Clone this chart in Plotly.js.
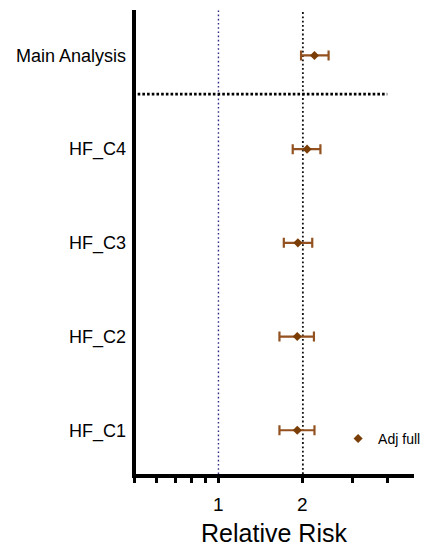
<!DOCTYPE html>
<html>
<head>
<meta charset="utf-8">
<script src="https://cdn.plot.ly/plotly-3.0.1.min.js"></script>
<style>html,body{margin:0;padding:0;background:#fff;}#chart{width:425px;height:547px;}</style>
</head>
<body>
<div id="chart"></div>
<script>
// Data (rows from bottom to top)
var categories = ['HF_C1', 'HF_C2', 'HF_C3', 'HF_C4', 'Main Analysis'];
var rrEstimate = [1.91, 1.91, 1.92, 2.07, 2.20];
var rrLower    = [1.65, 1.65, 1.71, 1.84, 1.97];
var rrUpper    = [2.20, 2.19, 2.16, 2.31, 2.47];
var seriesName = 'Adj full';
var xTickVals = [0.5, 0.6, 0.7, 0.8, 0.9, 1, 2, 3, 4];
var xLabelVals = [1, 2];
var xLabelText = ['1', '2'];
var refLineNull = [1];
var refLineMain = [2];
var separatorRow = 3.587;          // dotted separator between groups
var separatorSpan = [0.515, 4];

var rowIdx = categories.map(function (c, i) { return i; });
var yRange = [-0.467, 4.485];
var xRange = [Math.log10(0.5) - 0.0002, Math.log10(0.5) - 0.0002 + 280 / 280.4];

var traces = [];
// reference vertical lines
traces.push({x: [refLineNull[0], refLineNull[0]], y: yRange, mode: 'lines', showlegend: false, hoverinfo: 'skip',
  line: {color: '#2f2a86', width: 1.4, dash: '1.6px,2.6px'}});
traces.push({x: [refLineMain[0], refLineMain[0]], y: yRange, mode: 'lines', showlegend: false, hoverinfo: 'skip',
  line: {color: '#111111', width: 1.8, dash: '1.8px,2.5px'}});
// horizontal separator
traces.push({x: separatorSpan, y: [separatorRow, separatorRow], mode: 'lines', showlegend: false, hoverinfo: 'skip',
  line: {color: '#000000', width: 2.6, dash: '2.6px,2.1px'}});
// estimates with CIs
traces.push({
  x: rrEstimate, y: rowIdx, mode: 'markers', name: seriesName, type: 'scatter',
  marker: {symbol: 'diamond', size: 7, color: '#7a3d05'},
  error_x: {type: 'data', symmetric: false,
    array: rrEstimate.map(function (v, i) { return rrUpper[i] - v; }),
    arrayminus: rrEstimate.map(function (v, i) { return v - rrLower[i]; }),
    color: '#93511f', thickness: 2.2, width: 5}
});

// x tick labels (log axis annotations take log10 positions)
var tickLabelAnns = xLabelVals.map(function (v, i) {
  return {x: Math.log10(v), xref: 'x', y: -0.0657, yref: 'paper', text: xLabelText[i],
    showarrow: false, xanchor: 'center', yanchor: 'middle', font: {size: 19, color: '#000'}};
});

var layout = {
  width: 425, height: 547,
  margin: {l: 134, r: 11, t: 10, b: 72.5, autoexpand: false},
  paper_bgcolor: '#ffffff', plot_bgcolor: '#ffffff',
  font: {family: 'Liberation Sans, Arial, sans-serif', color: '#000'},
  xaxis: {
    type: 'log', range: xRange, automargin: false,
    tickmode: 'array', tickvals: xTickVals, showticklabels: false,
    ticks: 'outside', ticklen: 5, tickwidth: 3, tickcolor: '#000',
    showline: true, linewidth: 4, linecolor: '#000',
    showgrid: false, zeroline: false,
    title: {text: 'Relative Risk', font: {size: 25, color: '#000'}, standoff: 44}
  },
  yaxis: {
    range: yRange, automargin: false, tickmode: 'array', tickvals: rowIdx, ticktext: categories,
    ticks: '', showline: false, showgrid: false, zeroline: false,
    tickfont: {size: 18, color: '#000'}, ticklabelstandoff: 7
  },
  annotations: tickLabelAnns,
  shapes: [{type: 'line', xref: 'paper', yref: 'paper', x0: 0, x1: 0, y0: -0.0086, y1: 1,
    line: {color: '#000', width: 4}}],
  legend: {x: 0.729, y: 0.0758, xanchor: 'left', yanchor: 'middle', bgcolor: 'rgba(0,0,0,0)',
    font: {size: 14, color: '#000'}},
  showlegend: true
};

Plotly.newPlot('chart', traces, layout, {displayModeBar: false, staticPlot: true});
</script>
</body>
</html>
